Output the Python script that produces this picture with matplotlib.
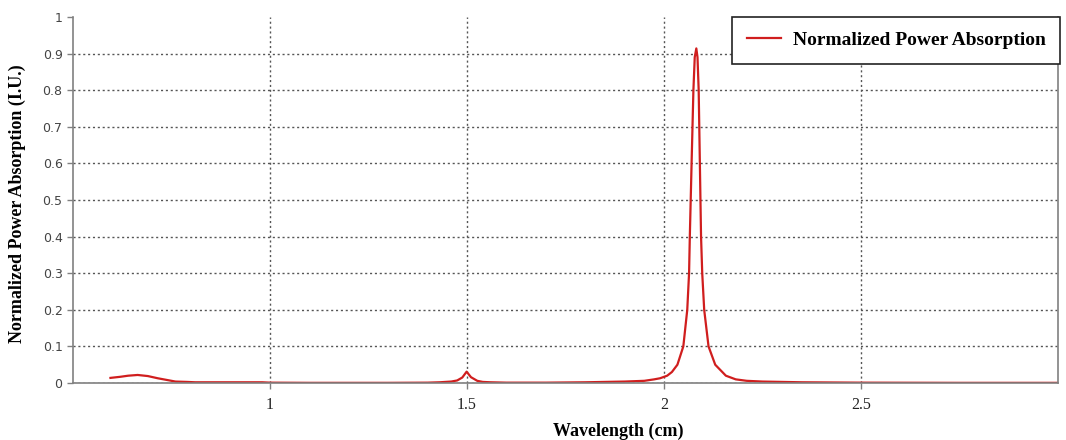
import matplotlib.pyplot as plt

# wavelength (cm) and normalized absorption
wavelength = [0.595, 0.62, 0.64, 0.664, 0.69, 0.715, 0.74, 0.76, 0.79, 0.81,
              0.85, 0.9, 0.95, 0.98, 1.0, 1.1, 1.2, 1.3, 1.4, 1.43,
              1.46, 1.475, 1.488, 1.499, 1.51, 1.526, 1.54, 1.56, 1.6, 1.7,
              1.8, 1.85, 1.9, 1.95, 1.975, 1.99, 2.008, 2.02, 2.034, 2.049,
              2.059, 2.0636, 2.0655, 2.070, 2.0746, 2.078, 2.082, 2.085, 2.088, 2.091,
              2.094, 2.097, 2.102, 2.113, 2.130, 2.157, 2.182, 2.21, 2.25, 2.3,
              2.35, 2.5, 2.75, 3.0]
absorption = [0.014, 0.017, 0.020, 0.022, 0.019, 0.013, 0.008, 0.004, 0.003, 0.002,
              0.002, 0.002, 0.002, 0.002, 0.001, 0.0005, 0.0005, 0.0005, 0.001, 0.002,
              0.004, 0.007, 0.015, 0.031, 0.016, 0.006, 0.003, 0.002, 0.001, 0.001,
              0.002, 0.003, 0.004, 0.006, 0.010, 0.013, 0.020, 0.030, 0.050, 0.10,
              0.20, 0.30, 0.40, 0.60, 0.80, 0.89, 0.914, 0.89, 0.80, 0.60,
              0.40, 0.30, 0.20, 0.10, 0.05, 0.02, 0.01, 0.006, 0.004, 0.003,
              0.002, 0.001, 0.0005, 0.0005]

xticks = [1, 1.5, 2, 2.5]
xticklabels = ['1', '1.5', '2', '2.5']
yticks = [0, 0.1, 0.2, 0.3, 0.4, 0.5, 0.6, 0.7, 0.8, 0.9, 1]
yticklabels = ['0', '0.1', '0.2', '0.3', '0.4', '0.5', '0.6', '0.7', '0.8', '0.9', '1']

fig = plt.figure(figsize=(10.66, 4.4), dpi=100)
ax = fig.add_axes([0.0685, 0.1295, 0.924, 0.832])

ax.plot(wavelength, absorption, color='#d01e1e', lw=1.6, label='Normalized Power Absorption')

ax.set_xlim(0.5, 3.0)
ax.set_ylim(0, 1)
ax.set_xticks(xticks)
ax.set_xticklabels(xticklabels, fontfamily='Liberation Serif', fontsize=11.5, color='#222222')
ax.set_yticks(yticks)
ax.set_yticklabels(yticklabels, fontfamily='DejaVu Sans', fontsize=9, color='#444444')
ax.tick_params(axis='both', length=4, color='#808080', width=1)
ax.tick_params(axis='x', pad=6)

ax.grid(True, linestyle=(0, (1.5, 2)), color='#555555', lw=1)
ax.set_axisbelow(True)
# no grid line along the top edge
ax.get_ygridlines()[-1].set_visible(False)

ax.spines['top'].set_visible(False)
for s in ['left', 'bottom', 'right']:
    ax.spines[s].set_color('#808080')
    ax.spines[s].set_linewidth(1.2)

ax.set_xlabel('Wavelength (cm)', fontfamily='Liberation Serif', fontweight='bold', fontsize=13)
ax.xaxis.set_label_coords(0.554, -0.108)
ax.set_ylabel('Normalized Power Absorption (I.U.)', fontfamily='Liberation Serif', fontweight='bold', fontsize=13)
ax.yaxis.set_label_coords(-0.048, 0.49)

leg = ax.legend(loc='upper right', bbox_to_anchor=(1.002, 1.0), borderaxespad=0,
                fancybox=False, framealpha=1, edgecolor='#222222',
                handlelength=1.75, handletextpad=0.6, borderpad=0.75,
                prop={'family': 'Liberation Serif', 'weight': 'bold', 'size': 14})
leg.get_frame().set_linewidth(1.2)

fig.savefig('out.png', dpi=100)
